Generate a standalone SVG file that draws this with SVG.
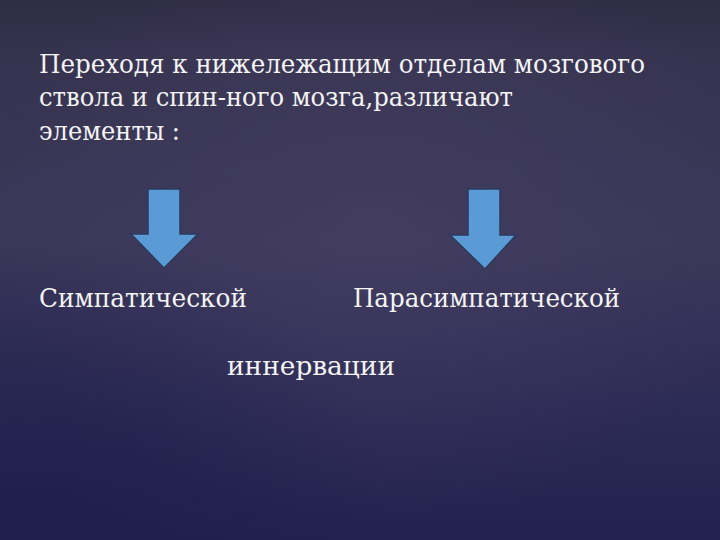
<svg xmlns="http://www.w3.org/2000/svg" width="720" height="540" viewBox="0 0 720 540">
<defs>
<linearGradient id="bg" x1="0" y1="0" x2="0" y2="1">
<stop offset="0" stop-color="#2f2c45"/>
<stop offset="0.1" stop-color="#36334f"/>
<stop offset="0.45" stop-color="#3a3759"/>
<stop offset="0.75" stop-color="#2c2b55"/>
<stop offset="1" stop-color="#22224e"/>
</linearGradient>
<radialGradient id="glow" cx="0.52" cy="0.42" r="0.55">
<stop offset="0" stop-color="#4a4268" stop-opacity="0.5"/>
<stop offset="1" stop-color="#4a4268" stop-opacity="0"/>
</radialGradient>
<radialGradient id="dark" cx="0.05" cy="0.95" r="0.5">
<stop offset="0" stop-color="#1a1c48" stop-opacity="0.6"/>
<stop offset="1" stop-color="#1a1c48" stop-opacity="0"/>
</radialGradient>
<style>
.t{font-size:26px;fill:#f4f4f4;font-stretch:condensed}
.arrow{fill:#5b9bd5;stroke:#2b3a5c;stroke-width:1.5;stroke-linejoin:miter}
</style>
</defs>
<rect width="720" height="540" fill="url(#bg)"/>
<rect width="720" height="540" fill="url(#glow)"/>
<rect width="720" height="540" fill="url(#dark)"/>
<g font-family="'DejaVu Serif Condensed', 'DejaVu Serif', serif">
<g id="intro">
<text class="t" x="39" y="73" textLength="606" lengthAdjust="spacingAndGlyphs">Переходя к нижележащим отделам мозгового</text>
<text class="t" x="39" y="106" textLength="474" lengthAdjust="spacingAndGlyphs">ствола и спин-ного мозга,различают</text>
<text class="t" x="39" y="140" textLength="141" lengthAdjust="spacingAndGlyphs">элементы :</text>
</g>
<g id="sympathetic">
<text class="t" x="39" y="307" textLength="208" lengthAdjust="spacingAndGlyphs">Симпатической</text>
</g>
<g id="parasympathetic">
<text class="t" x="353" y="307" textLength="267" lengthAdjust="spacingAndGlyphs">Парасимпатической</text>
</g>
<g id="innervation">
<text class="t" x="227" y="375" textLength="168" lengthAdjust="spacingAndGlyphs">иннервации</text>
</g>
</g>
<g id="connectors">
<path class="arrow" d="M148,189 H180 V234 H198 L164,268 L131,234 H148 Z"/>
<path class="arrow" d="M468,189 H500 V235 H516 L485,269 L450,235 H468 Z"/>
</g>
</svg>
